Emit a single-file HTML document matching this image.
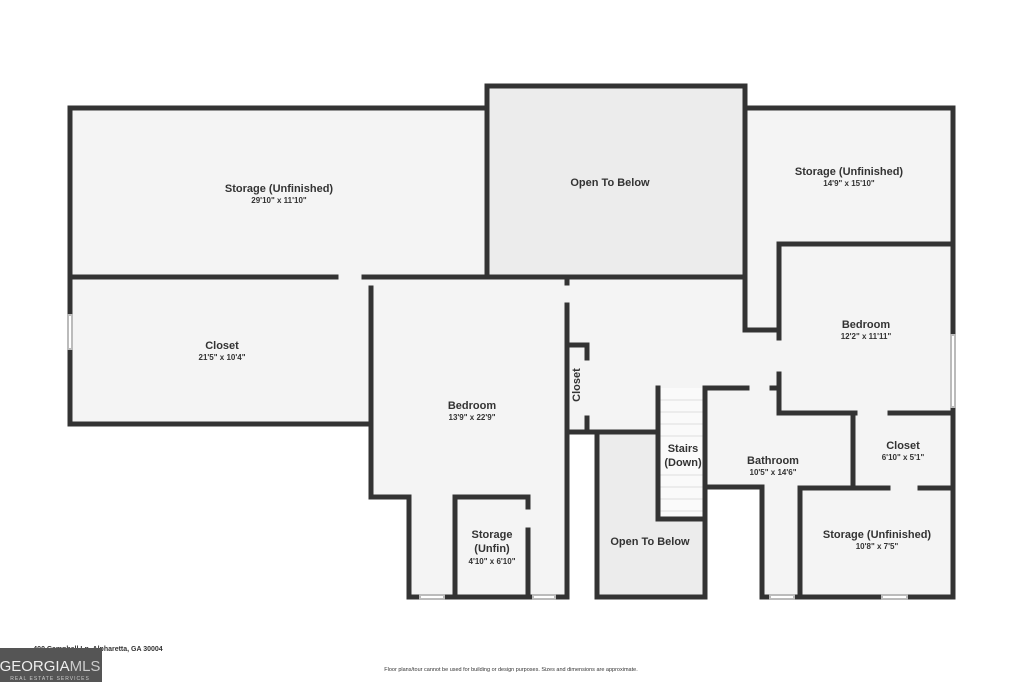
<!DOCTYPE html>
<html><head><meta charset="utf-8"><style>
html,body{margin:0;padding:0;background:#fff;width:1024px;height:682px;overflow:hidden}
svg{display:block}
text{font-family:"Liberation Sans",sans-serif;fill:#333;text-anchor:middle}
.t{font-size:11px;font-weight:bold}
.d{font-size:8px;font-weight:bold}
</style></head><body>
<svg width="1024" height="682" viewBox="0 0 1024 682">
<g fill="#f4f4f4">
<rect x="70" y="108" width="417" height="169"/>
<rect x="745" y="108" width="208" height="136"/>
<rect x="745" y="240" width="36" height="92"/>
<rect x="70" y="277" width="301" height="147"/>
<rect x="371" y="277" width="196" height="220"/>
<rect x="409" y="497" width="158" height="100"/>
<rect x="567" y="277" width="212" height="155"/>
<rect x="705" y="388" width="150" height="100"/>
<rect x="762" y="488" width="40" height="109"/>
<rect x="779" y="244" width="174" height="170"/>
<rect x="853" y="413" width="100" height="76"/>
<rect x="800" y="488" width="153" height="109"/>
</g>
<rect x="487" y="86" width="258" height="191" fill="#ececec"/>
<rect x="597" y="432" width="108" height="165" fill="#ececec"/>
<rect x="658" y="388" width="47" height="131" fill="#fafafa"/>
<g stroke="#ddd" stroke-width="1">
<line x1="660" y1="400" x2="703" y2="400"/><line x1="660" y1="412" x2="703" y2="412"/>
<line x1="660" y1="424" x2="703" y2="424"/><line x1="660" y1="436" x2="703" y2="436"/>
<line x1="660" y1="475" x2="703" y2="475"/><line x1="660" y1="487" x2="703" y2="487"/>
<line x1="660" y1="499" x2="703" y2="499"/><line x1="660" y1="511" x2="703" y2="511"/>
</g>
<g stroke="#333" stroke-width="5" fill="none" stroke-linecap="square">
<polyline points="70,424 70,108 487,108 487,86 745,86 745,108 953,108 953,597 800,597"/>
<line x1="70" y1="277" x2="336" y2="277"/>
<line x1="364" y1="277" x2="745" y2="277"/>
<line x1="487" y1="108" x2="487" y2="277"/>
<polyline points="745,108 745,277"/>
<line x1="70" y1="424" x2="371" y2="424"/>
<line x1="371" y1="288" x2="371" y2="497"/>
<polyline points="371,497 409,497 409,597 418,597"/>
<polyline points="445,597 530,597"/>
<polyline points="556,597 567,597 567,305"/>
<line x1="567" y1="277" x2="567" y2="283"/>
<polyline points="455,597 455,497 528,497 528,507"/>
<line x1="528" y1="530" x2="528" y2="597"/>
<polyline points="587,358 587,345 567,345"/>
<polyline points="587,418 587,432 567,432"/>
<polyline points="587,432 658,432"/>
<polyline points="597,432 597,597 705,597 705,388 747,388"/>
<polyline points="658,432 658,519 705,519"/>
<line x1="658" y1="388" x2="658" y2="432"/>
<polyline points="745,277 745,330"/>
<polyline points="745,330 779,330 779,338"/>
<polyline points="779,374 779,413 855,413"/>
<line x1="772" y1="388" x2="779" y2="388"/>
<polyline points="779,244 953,244"/>
<line x1="779" y1="244" x2="779" y2="330"/>
<line x1="890" y1="413" x2="953" y2="413"/>
<line x1="853" y1="413" x2="853" y2="488"/>
<polyline points="800,597 800,488 888,488"/>
<line x1="920" y1="488" x2="953" y2="488"/>
<polyline points="705,487 762,487 762,597 768,597"/>
<line x1="795" y1="597" x2="880" y2="597"/>
<line x1="908" y1="597" x2="953" y2="597"/>
</g>
<g stroke="#bbb" stroke-width="2" fill="#fff">
<rect x="68" y="315" width="4" height="34"/>
<rect x="951" y="335" width="4" height="72"/>
<rect x="420" y="595" width="24" height="4"/>
<rect x="533" y="595" width="22" height="4"/>
<rect x="770" y="595" width="24" height="4"/>
<rect x="882" y="595" width="25" height="4"/>
</g>
<text class="t" x="279" y="192">Storage (Unfinished)</text>
<text class="d" x="279" y="203">29'10" x 11'10"</text>
<text class="t" x="610" y="186">Open To Below</text>
<text class="t" x="849" y="175">Storage (Unfinished)</text>
<text class="d" x="849" y="186">14'9" x 15'10"</text>
<text class="t" x="222" y="349">Closet</text>
<text class="d" x="222" y="360">21'5" x 10'4"</text>
<text class="t" x="472" y="409">Bedroom</text>
<text class="d" x="472" y="420">13'9" x 22'9"</text>
<text class="t" x="866" y="328">Bedroom</text>
<text class="d" x="866" y="339">12'2" x 11'11"</text>
<text class="t" transform="translate(580,385) rotate(-90)">Closet</text>
<text class="t" x="683" y="452">Stairs</text>
<text class="t" x="683" y="466">(Down)</text>
<text class="t" x="773" y="464">Bathroom</text>
<text class="d" x="773" y="475">10'5" x 14'6"</text>
<text class="t" x="903" y="449">Closet</text>
<text class="d" x="903" y="460">6'10" x 5'1"</text>
<text class="t" x="492" y="538">Storage</text>
<text class="t" x="492" y="552">(Unfin)</text>
<text class="d" x="492" y="564">4'10" x 6'10"</text>
<text class="t" x="650" y="545">Open To Below</text>
<text class="t" x="877" y="538">Storage (Unfinished)</text>
<text class="d" x="877" y="549">10'8" x 7'5"</text>
<text x="98" y="651" style="font-size:7px;font-weight:bold;text-anchor:middle">400 Campbell Ln, Alpharetta, GA 30004</text>
<text x="511" y="671" style="font-size:5.5px;text-anchor:middle">Floor plans/tour cannot be used for building or design purposes. Sizes and dimensions are approximate.</text>
<rect x="0" y="648" width="102" height="34" fill="#555"/>
<text x="50" y="671" style="font-size:15px;fill:#eee;text-anchor:middle">GEORGIA<tspan fill="#ccc">MLS</tspan></text>
<text x="50" y="680" style="font-size:5px;fill:#ccc;text-anchor:middle;letter-spacing:1px">REAL ESTATE SERVICES</text>
</svg>
</body></html>
